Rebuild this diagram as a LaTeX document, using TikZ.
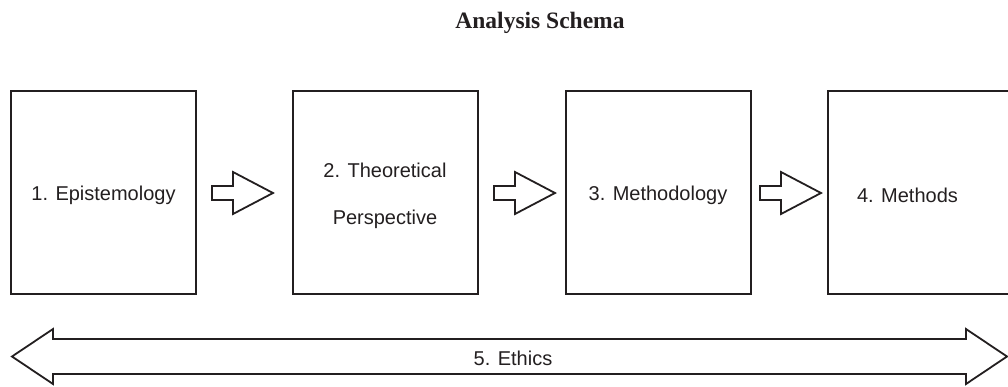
\documentclass[tikz,border=0pt]{standalone}
\usepackage{fontspec}
\setmainfont{Liberation Serif}
\newfontfamily\arialfont{Liberation Sans}
\definecolor{ink}{HTML}{231F20}
\begin{document}
\begin{tikzpicture}[x=1pt,y=-1pt,
  stagebox/.style={draw=ink, line width=2pt, minimum width=185pt, minimum height=203pt, inner sep=0pt},
  lbl/.style={font=\arialfont\fontsize{20}{24}\selectfont, text=ink, inner sep=0pt, align=center},
  blockarrow/.style={draw=ink, line width=1.8pt, line join=miter, fill=white}]
\useasboundingbox (0,0) rectangle (1008,386);
\clip (0,0) rectangle (1008,386);
\node[font=\bfseries\fontsize{23.5}{27}\selectfont, text=ink, anchor=base, inner sep=0pt] (title) at (540,28) {Analysis Schema};
\node[stagebox] (b1) at (103.5,192.5) {};
\node[stagebox] (b2) at (385,192.5) {};
\node[stagebox] (b3) at (658,192.5) {};
\node[stagebox, minimum width=200pt] (b4) at (928,192.5) {};
\node[lbl] (t1) at (103.5,195) {1. Epistemology};
\node[lbl] (t2) at (385,195.5) {2. Theoretical\\[23pt]Perspective};
\node[lbl] (t3) at (658,195) {3. Methodology};
\node[lbl] (t4) at (907.5,195) {4. Methods};
% small block arrows
\foreach \x/\n in {212/a1,494/a2,760/a3}{
  \coordinate (\n) at (\x,193);
  \draw[blockarrow] (\n) ++(0,-7) -- ++(21,0) -- ++(0,-14) -- ++(40,21) -- ++(-40,21) -- ++(0,-14) -- ++(-21,0) -- cycle;
}
% big double arrow
\coordinate (L) at (12,356.5);
\coordinate (R) at (1007,356.5);
\draw[blockarrow] (L) -- ++(41,-27.5) -- ++(0,10) -- (966,339) -- (966,329) -- (R) -- (966,384) -- (966,374) -- (53,374) -- (53,384) -- cycle;
\node[lbl] (ethics) at (513,358) {5. Ethics};
\end{tikzpicture}
\end{document}
